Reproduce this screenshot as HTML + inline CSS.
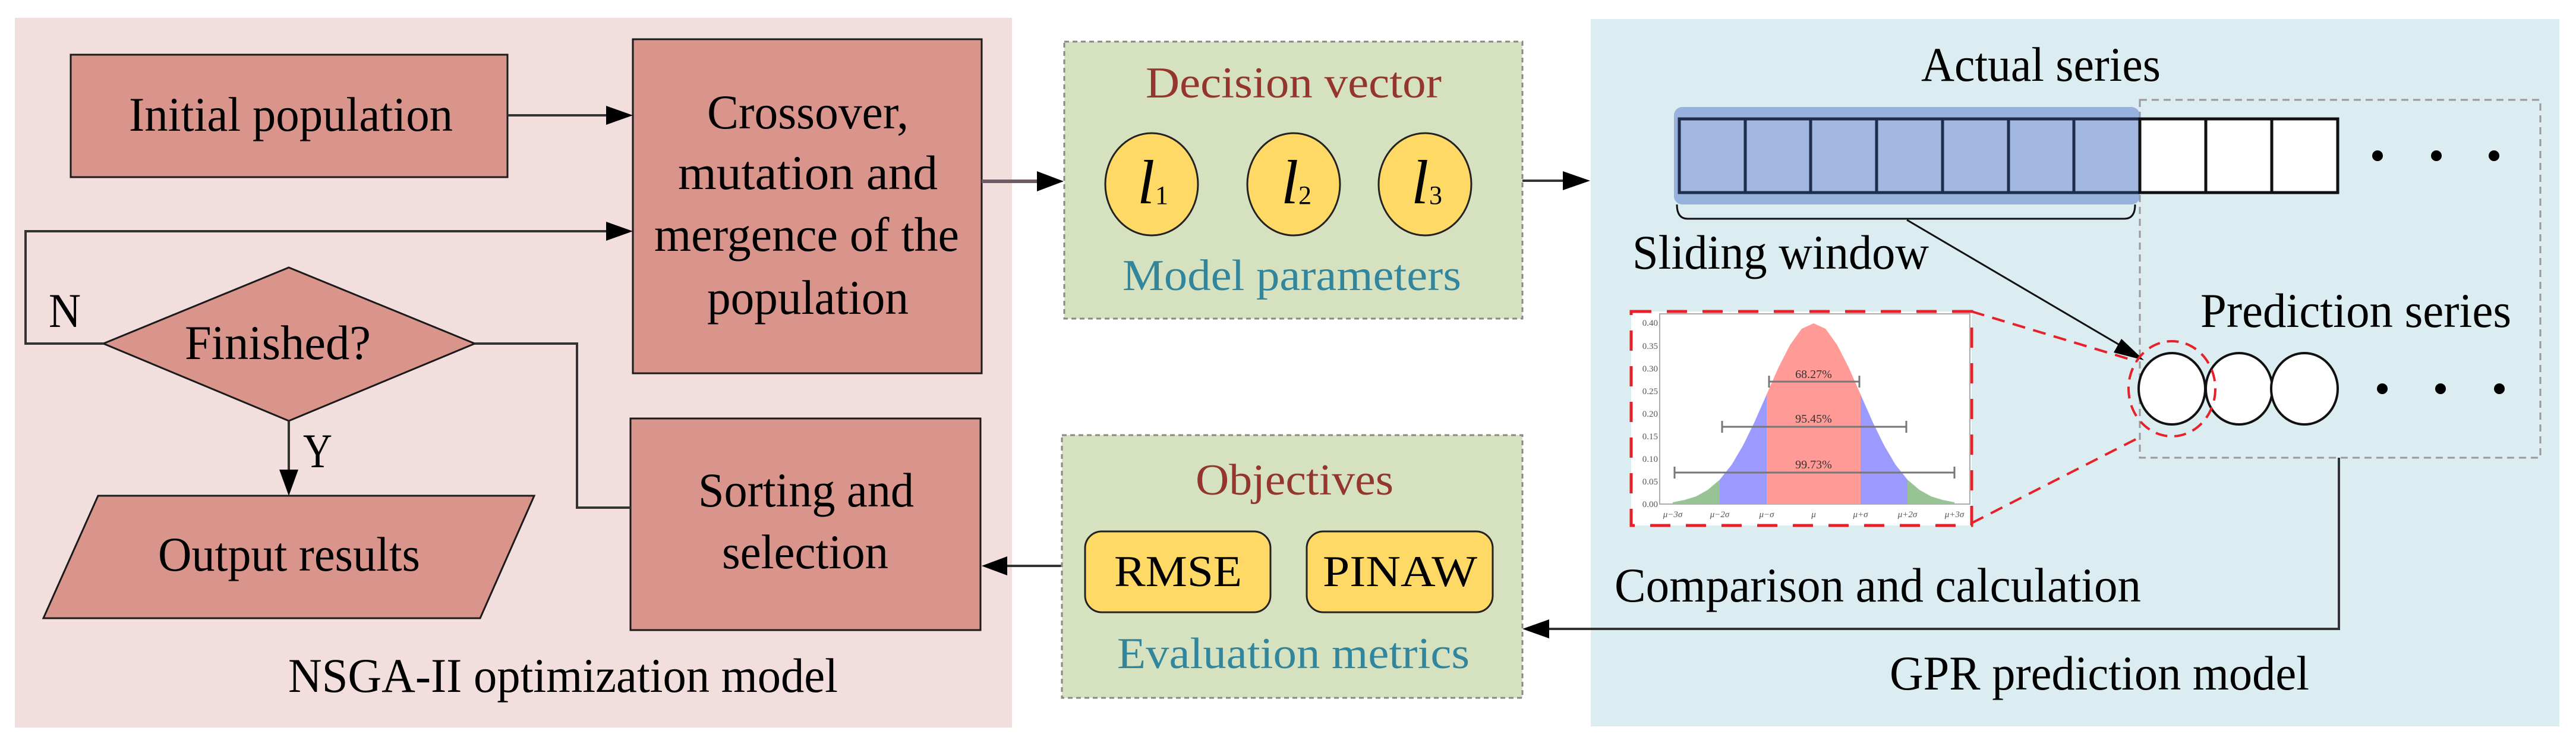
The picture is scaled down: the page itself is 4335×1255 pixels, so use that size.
<!DOCTYPE html>
<html><head><meta charset="utf-8"><style>html,body{margin:0;padding:0;background:#fff}svg{display:block}svg text{font-family:"Liberation Serif","Times New Roman",serif}</style></head><body>
<svg xmlns="http://www.w3.org/2000/svg" width="4335" height="1255" viewBox="0 0 4335 1255">
<rect width="4335" height="1255" fill="#fff"/>
<!-- panels -->
<rect x="25" y="30" width="1678" height="1194" fill="#f2dedc"/>
<rect x="2677" y="32" width="1630" height="1190" fill="#dbedf1"/>

<!-- left boxes -->
<g fill="#d9958c" stroke="#1a1a1a" stroke-width="3">
<rect x="119" y="92" width="735" height="206"/>
<rect x="1065" y="66" width="587" height="562"/>
<rect x="1061" y="704" width="589" height="356"/>
<polygon points="174,578 486,450 799,578 486,708"/>
<polygon points="165,834 899,834 808,1040 73,1040"/>
</g>
<!-- left connectors -->
<g stroke="#333" stroke-width="4" fill="none">
<line x1="854" y1="194" x2="1020" y2="194"/>
<polyline points="174,578 43,578 43,389 1020,389"/>
<line x1="486" y1="708" x2="486" y2="790"/>
<polyline points="799,578 971,578 971,854 1061,854"/>
</g>
<polygon points="1020,178 1065,194 1020,210" fill="#000"/>
<polygon points="1020,373 1065,389 1020,405" fill="#000"/>
<polygon points="470,790 486,834 502,790" fill="#000"/>

<g font-size="82" fill="#000">
<text x="217" y="220" textLength="545" lengthAdjust="spacingAndGlyphs">Initial population</text>
<text x="1190" y="216" textLength="339" lengthAdjust="spacingAndGlyphs">Crossover,</text>
<text x="1141" y="318" textLength="437" lengthAdjust="spacingAndGlyphs">mutation  and</text>
<text x="1101" y="422" textLength="513" lengthAdjust="spacingAndGlyphs">mergence of the</text>
<text x="1190" y="528" textLength="339" lengthAdjust="spacingAndGlyphs">population</text>
<text x="311" y="604" textLength="313" lengthAdjust="spacingAndGlyphs">Finished?</text>
<text x="82" y="550" textLength="54" lengthAdjust="spacingAndGlyphs">N</text>
<text x="510" y="786" textLength="49" lengthAdjust="spacingAndGlyphs">Y</text>
<text x="266" y="960" textLength="441" lengthAdjust="spacingAndGlyphs">Output results</text>
<text x="1175" y="852" textLength="363" lengthAdjust="spacingAndGlyphs">Sorting and</text>
<text x="1215" y="956" textLength="280" lengthAdjust="spacingAndGlyphs">selection</text>
<text x="485" y="1164" textLength="925" lengthAdjust="spacingAndGlyphs">NSGA-II optimization model</text>
</g>

<!-- middle connectors -->
<line x1="1652" y1="305" x2="1750" y2="305" stroke="#6e5c66" stroke-width="6"/>
<polygon points="1745,288 1790,305 1745,322" fill="#000"/>
<line x1="2562" y1="304" x2="2635" y2="304" stroke="#333" stroke-width="4"/>
<polygon points="2630,288 2676,304 2630,320" fill="#000"/>
<line x1="1787" y1="952" x2="1695" y2="952" stroke="#333" stroke-width="4"/>
<polygon points="1695,936 1652,952 1695,968" fill="#000"/>

<!-- green boxes -->
<g fill="#d6e2bf" stroke="#888" stroke-width="3" stroke-dasharray="8,6">
<rect x="1791" y="70" width="771" height="466"/>
<rect x="1787" y="732" width="775" height="442"/>
</g>
<text x="1928" y="164" font-size="74" fill="#94362e" textLength="498" lengthAdjust="spacingAndGlyphs">Decision vector</text>
<g fill="#ffd966" stroke="#222" stroke-width="3">
<ellipse cx="1938" cy="310" rx="78" ry="86"/>
<ellipse cx="2177" cy="310" rx="78" ry="86"/>
<ellipse cx="2398" cy="310" rx="78" ry="86"/>
</g>
<g fill="#000" font-style="italic" font-size="105">
<text x="1914" y="342">l</text><text x="2156" y="342">l</text><text x="2375" y="342">l</text>
</g>
<g fill="#000" font-size="44">
<text x="1944" y="343">1</text><text x="2185" y="343">2</text><text x="2405" y="343">3</text>
</g>
<text x="1889" y="488" font-size="74" fill="#31859c" textLength="570" lengthAdjust="spacingAndGlyphs">Model parameters</text>
<text x="2012" y="832" font-size="74" fill="#94362e" textLength="333" lengthAdjust="spacingAndGlyphs">Objectives</text>
<g fill="#ffd966" stroke="#222" stroke-width="3">
<rect x="1826" y="894" width="312" height="136" rx="28"/>
<rect x="2199" y="894" width="313" height="136" rx="28"/>
</g>
<text x="1875" y="986" font-size="74" fill="#000" textLength="215" lengthAdjust="spacingAndGlyphs">RMSE</text>
<text x="2226" y="986" font-size="74" fill="#000" textLength="260" lengthAdjust="spacingAndGlyphs">PINAW</text>
<text x="1880" y="1124" font-size="74" fill="#31859c" textLength="593" lengthAdjust="spacingAndGlyphs">Evaluation metrics</text>

<!-- right panel -->
<text x="3233" y="136" font-size="82" fill="#000" textLength="403" lengthAdjust="spacingAndGlyphs">Actual series</text>
<rect x="3601" y="168" width="674" height="602" fill="none" stroke="#999" stroke-width="3" stroke-dasharray="12,8"/>
<rect x="2817" y="180" width="784" height="164" rx="14" fill="#7f9ed6" opacity="0.75"/>
<rect x="2826" y="200" width="775" height="124" stroke="#1f2d4d" stroke-width="5" fill="#a2b8e0"/>
<g stroke="#1f2d4d" stroke-width="5">
<line x1="2937" y1="200" x2="2937" y2="324"/><line x1="3047" y1="200" x2="3047" y2="324"/>
<line x1="3158" y1="200" x2="3158" y2="324"/><line x1="3269" y1="200" x2="3269" y2="324"/>
<line x1="3380" y1="200" x2="3380" y2="324"/><line x1="3490" y1="200" x2="3490" y2="324"/>
</g>
<g stroke="#111" stroke-width="5" fill="#fff">
<rect x="3601" y="200" width="111" height="124"/><rect x="3712" y="200" width="111" height="124"/><rect x="3823" y="200" width="111" height="124"/>
</g>
<g fill="#000"><circle cx="4001" cy="262" r="9"/><circle cx="4100" cy="262" r="9"/><circle cx="4197" cy="262" r="9"/>
<circle cx="4009" cy="654" r="9"/><circle cx="4107" cy="654" r="9"/><circle cx="4206" cy="654" r="9"/></g>
<path d="M2822,344 Q2822,368 2840,368 L3575,368 Q3593,368 3593,344" fill="none" stroke="#111" stroke-width="3"/>
<text x="2747" y="452" font-size="82" fill="#000" textLength="499" lengthAdjust="spacingAndGlyphs">Sliding window</text>
<line x1="3209" y1="370" x2="3580" y2="588" stroke="#111" stroke-width="3"/>
<polygon points="3570,570 3608,606 3557,593" fill="#000"/>
<text x="3703" y="550" font-size="82" fill="#000" textLength="523" lengthAdjust="spacingAndGlyphs">Prediction series</text>
<g fill="#fff" stroke="#111" stroke-width="4">
<ellipse cx="3655" cy="654" rx="56" ry="60"/><ellipse cx="3768" cy="654" rx="56" ry="60"/><ellipse cx="3878" cy="654" rx="56" ry="60"/>
</g>
<ellipse cx="3655" cy="654" rx="73" ry="80" fill="none" stroke="#e8202a" stroke-width="4" stroke-dasharray="20,12"/>
<line x1="3318" y1="524" x2="3596" y2="608" stroke="#e8202a" stroke-width="4" stroke-dasharray="22,14"/>
<line x1="3318" y1="880" x2="3596" y2="738" stroke="#e8202a" stroke-width="4" stroke-dasharray="22,14"/>

<!-- inset -->
<rect x="2745" y="524" width="573" height="360" fill="#fff"/>
<rect x="2745" y="524" width="573" height="360" fill="none" stroke="#e8202a" stroke-width="5" stroke-dasharray="34,26"/>
<rect x="2793" y="528" width="522" height="320" fill="none" stroke="#aaa" stroke-width="2"/>
<polygon fill="#98c495" points="2815,848 2815,845 2835,841 2854.5,835 2874,824 2894,807 2894,848"/>
<polygon fill="#98c495" points="3210,848 3210,807 3230,824 3249.5,835 3269,841 3289,845 3289,848"/>
<polygon fill="#9a9aff" points="2894,848 2894,807 2914,782 2933.5,749 2953,709 2973,663.5 2973,848"/>
<polygon fill="#9a9aff" points="3131,848 3131,663.5 3151,709 3170.5,749 3190,782 3210,807 3210,848"/>
<polygon fill="#ff9a96" points="2973,848 2973,663.5 2993,618 3012.5,580 3032,553 3052,544 3072,553 3091.5,580 3111,618 3131,663.5 3131,848"/>
<g stroke="#777" stroke-width="3">
<line x1="2977" y1="642" x2="3129" y2="642"/><line x1="2898" y1="718" x2="3208" y2="718"/><line x1="2818" y1="795" x2="3289" y2="795"/>
<line x1="2977" y1="632" x2="2977" y2="652"/><line x1="3129" y1="632" x2="3129" y2="652"/>
<line x1="2898" y1="708" x2="2898" y2="728"/><line x1="3208" y1="708" x2="3208" y2="728"/>
<line x1="2818" y1="785" x2="2818" y2="805"/><line x1="3289" y1="785" x2="3289" y2="805"/>
</g>
<g font-size="20" fill="#333" text-anchor="middle">
<text x="3052" y="636">68.27%</text><text x="3052" y="711">95.45%</text><text x="3052" y="788">99.73%</text>
</g>
<g font-size="15" fill="#555" text-anchor="end">
<text x="2790" y="548">0.40</text><text x="2790" y="587">0.35</text><text x="2790" y="625">0.30</text><text x="2790" y="663">0.25</text>
<text x="2790" y="701">0.20</text><text x="2790" y="739">0.15</text><text x="2790" y="777">0.10</text><text x="2790" y="815">0.05</text><text x="2790" y="853">0.00</text>
</g>
<g font-size="15" fill="#555" text-anchor="middle" font-style="italic">
<text x="2815" y="870">μ−3σ</text><text x="2894" y="870">μ−2σ</text><text x="2973" y="870">μ−σ</text><text x="3052" y="870">μ</text>
<text x="3131" y="870">μ+σ</text><text x="3210" y="870">μ+2σ</text><text x="3289" y="870">μ+3σ</text>
</g>

<text x="2717" y="1012" font-size="82" fill="#000" textLength="886" lengthAdjust="spacingAndGlyphs">Comparison and calculation</text>
<polyline points="3936,770 3936,1058 2605,1058" fill="none" stroke="#333" stroke-width="4"/>
<polygon points="2607,1042 2562,1058 2607,1074" fill="#000"/>
<text x="3180" y="1160" font-size="82" fill="#000" textLength="706" lengthAdjust="spacingAndGlyphs">GPR prediction model</text>
</svg>
</body></html>
